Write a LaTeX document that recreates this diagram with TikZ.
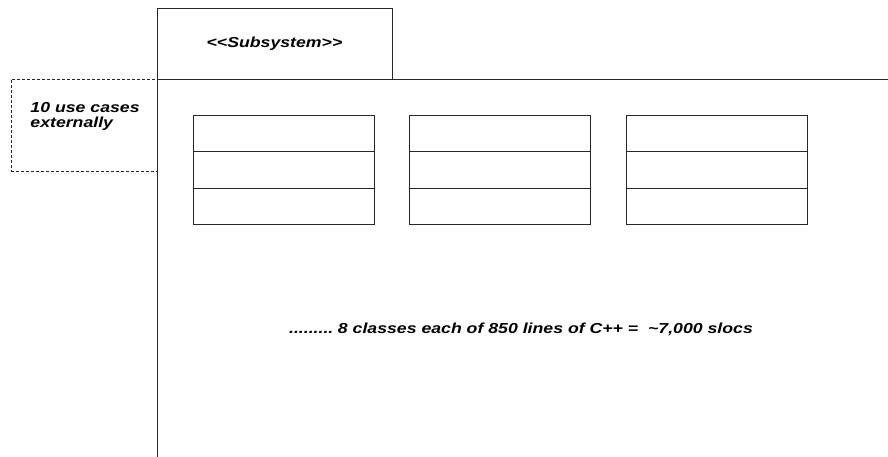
\documentclass[tikz,border=0pt]{standalone}
\usepackage{fontspec}
\setmainfont{Liberation Sans}
\newfontfamily\umlface[FakeStretch=1.22]{Liberation Sans}
\usetikzlibrary{positioning}
\definecolor{umlLine}{HTML}{2A2624}
\tikzset{
  umlfont/.style={font=\umlface\fontsize{14.5}{15}\selectfont\bfseries\itshape},
  compartment/.style={draw=umlLine, line width=0.9pt, rectangle, minimum width=181pt, minimum height=36.5pt, inner sep=0pt, outer sep=0pt},
}
\begin{document}
\begin{tikzpicture}[x=1pt, y=-1pt, line width=0.9pt]

    \useasboundingbox (0,0) rectangle (888,457);

    % Package tab
    \node (Tab) [draw=umlLine, rectangle, minimum width=235pt, minimum height=71pt,
                 inner sep=0pt, outer sep=0pt, anchor=north west] at (157, 8) {};
    \node[umlfont] at (Tab.center) {{<}{<}Subsystem{>}{>}};

    % Package body (open frame)
    \coordinate (FrameRight) at (888, 79);
    \coordinate (FrameBottom) at (157, 457);
    \draw[umlLine] (Tab.south west) -- (FrameRight);
    \draw[umlLine] (Tab.south west) -- (FrameBottom);

    % Note on use cases
    \node (Note) [draw=umlLine, dash pattern=on 3pt off 2pt, rectangle, minimum width=146pt,
                  minimum height=92pt, inner sep=0pt, anchor=north west] at (11, 79) {};
    \node[umlfont, align=left, anchor=north west, inner sep=0pt] at (30, 102) {10 use cases\\externally};

    % Classes
    \foreach \x/\name in {193/A, 409/B, 626/C} {
        \node (\name1) [compartment, anchor=north west] at (\x, 115) {};
        \node (\name2) [compartment, below=0pt of \name1] {};
        \node (\name3) [compartment, below=0pt of \name2] {};
    }

    % Size estimate
    \node (Estimate) [umlfont, anchor=base] at (521, 333) {.........\hspace{-2pt} 8 classes each of 850 lines of C++ = \ \textasciitilde7,000 slocs};

\end{tikzpicture}
\end{document}
